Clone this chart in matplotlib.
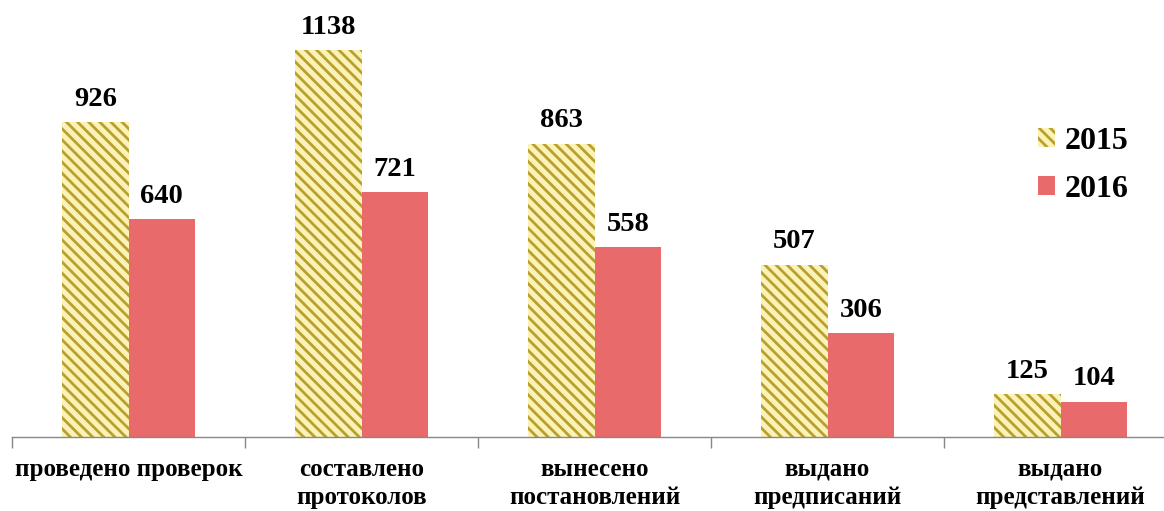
import matplotlib
matplotlib.use("Agg")
import matplotlib.pyplot as plt
import numpy as np

categories = ["проведено проверок", "составлено\nпротоколов", "вынесено\nпостановлений",
              "выдано\nпредписаний", "выдано\nпредставлений"]
values_2015 = [926, 1138, 863, 507, 125]
values_2016 = [640, 721, 558, 306, 104]
series_names = ["2015", "2016"]

plt.rcParams['font.family'] = ['Liberation Serif', 'DejaVu Serif']
plt.rcParams['hatch.linewidth'] = 2.0

fig = plt.figure(figsize=(11.64, 5.11), dpi=100)
ax = fig.add_axes([12/1164, 1 - 437/511, 1165/1164, 437/511])

x = np.arange(len(categories))
w = 0.285
hatch_color = '#B9A02E'
b1 = ax.bar(x - w/2, values_2015, w, facecolor='#FBF2B8', edgecolor=hatch_color,
            hatch='\\\\\\', linewidth=0, label=series_names[0])
b2 = ax.bar(x + w/2, values_2016, w, color='#E96A6A', linewidth=0, label=series_names[1])

for rect, v in list(zip(b1, values_2015)) + list(zip(b2, values_2016)):
    ax.text(rect.get_x() + rect.get_width()/2, v + 30, str(v), ha='center', va='bottom',
            fontsize=20.5, fontweight='bold')

ax.set_xlim(-0.5, len(categories) - 0.5)
ax.set_ylim(0, 1285)
for s in ['top', 'right', 'left']:
    ax.spines[s].set_visible(False)
ax.spines['bottom'].set_color('#888888')
ax.spines['bottom'].set_linewidth(1.0)
ax.set_yticks([])
ax.set_xticks(np.arange(len(categories) + 1) - 0.5, minor=False)
ax.set_xticklabels([])
ax.tick_params(axis='x', which='major', length=8, color='#888888', width=1.0)
ax.set_xticks(x, minor=True)
ax.set_xticklabels(categories, minor=True, fontsize=18, fontweight='bold', linespacing=1.3, va='top')
ax.tick_params(axis='x', which='minor', length=0, pad=15)

leg = ax.legend(loc='upper left', bbox_to_anchor=(1008/1164 - 12/1164, 1 - 98/437), frameon=False,
                prop={'size': 23, 'weight': 'bold'}, handlelength=0.55, handleheight=0.55,
                handletextpad=0.3, labelspacing=0.6)

fig.savefig("out.png", dpi=100)
